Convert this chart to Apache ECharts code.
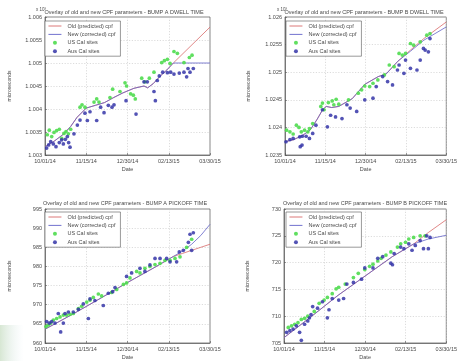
<!DOCTYPE html>
<html><head><meta charset="utf-8">
<script src="https://cdn.jsdelivr.net/npm/echarts@6/dist/echarts.min.js"></script>
<style>html,body{margin:0;padding:0;background:#fff}#c{width:460px;height:361px}</style>
</head><body><div id="c"></div>
<script>
// x values are days since 10/01/14
const dateLabels = ['10/01/14','11/15/14','12/30/14','02/13/15','03/30/15'];
const seriesNames = ['Old (predicted) cpf','New (corrected) cpf','US Cal sites','Aus Cal sites'];
const panelTitles = [
  'Overlay of old and new CPF parameters - BUMP A DWELL TIME',
  'Overlay of old and new CPF parameters - BUMP B DWELL TIME',
  'Overlay of old and new CPF parameters - BUMP A PICKOFF TIME',
  'Overlay of old and new CPF parameters - BUMP B PICKOFF TIME'
];

// Panel 1: BUMP A DWELL TIME (microseconds)
const aDwellLineX = [0,10,20,28,35,45,55,65,75,85,97,108,112,118,126,133,140,180];
const aDwellNew = [1003.18,1003.30,1003.45,1003.62,1003.82,1004.02,1004.08,1004.14,1004.25,1004.35,1004.45,1004.50,1004.46,1004.55,1004.72,1004.85,1005.00,1005.00];
const aDwellOld = [1003.18,1003.30,1003.45,1003.62,1003.82,1004.02,1004.08,1004.14,1004.25,1004.35,1004.45,1004.50,1004.46,1004.55,1004.72,1004.85,1005.00,1005.78];
const aDwellUsX = [2.5,4.7,7.3,9.8,12.7,15.6,18.2,20.7,22.9,25.5,28,38.2,40.4,43.6,53.5,56.4,58.9,70.9,73.8,81.8,87.3,89,93.4,96.4,98.5,105.5,109,113.8,118.9,127.3,130.2,133.5,136.4,140.7,144.4,151.6,157.5,160.4];
const aDwellUsY = [1003.44,1003.54,1003.40,1003.49,1003.53,1003.56,1003.36,1003.47,1003.51,1003.46,1003.56,1004.04,1004.09,1004.04,1004.15,1004.22,1004.15,1004.25,1004.43,1004.38,1004.57,1004.50,1004.33,1004.30,1004.22,1004.67,1004.59,1004.67,1004.80,1005.01,1005.05,1005.08,1004.99,1005.25,1005.21,1005.01,1005.12,1005.17];
const aDwellAusX = [1.8,4,6.2,9.1,12,15.6,18.2,20,22.2,24.4,25.8,27.3,31.6,35.3,38.2,43.6,46.2,49.1,56.4,60.7,64.4,69.1,73.1,75.3,88.4,99.3,108,111.6,118.9,120.4,122.5,124.7,128.4,133.5,137.1,140.7,146.5,151.6,154.5,156,158.2,161.8];
const aDwellAusY = [1003.15,1003.22,1003.29,1003.24,1003.18,1003.27,1003.33,1003.24,1003.34,1003.40,1003.27,1003.17,1003.46,1003.65,1003.76,1003.91,1003.75,1003.94,1003.75,1004.04,1003.92,1004.08,1004.04,1004.09,1004.18,1003.89,1004.59,1004.59,1004.38,1004.18,1004.62,1004.72,1004.80,1004.79,1004.80,1004.76,1004.78,1004.80,1004.70,1004.88,1004.80,1004.88];

// Panel 2: BUMP B DWELL TIME (microseconds)
const bDwellLineX = [0,10,20,28,36,42,46,52,60,75,89,104,113,126,140,155,180];
const bDwellNew = [1023.74,1023.78,1023.86,1023.95,1024.15,1024.32,1024.38,1024.36,1024.38,1024.52,1024.78,1024.92,1024.97,1025.20,1025.38,1025.58,1025.82];
const bDwellOld = [1023.74,1023.78,1023.86,1023.95,1024.15,1024.32,1024.38,1024.36,1024.38,1024.52,1024.78,1024.92,1024.97,1025.20,1025.40,1025.61,1025.91];
const bDwellUsX = [1.8,5.5,9.1,12.7,15.6,18.2,21.8,25.5,27.3,30.9,40,41.8,43.6,48.4,52.7,54.5,57.1,60,70.9,81.8,85.5,89,94.5,98.2,103.6,110.9,116.4,121.8,127.3,130.9,134.5,140,143.6,150.9,158.2,161.8];
const bDwellUsY = [1023.95,1023.92,1023.88,1024.04,1024.00,1023.92,1023.95,1023.92,1023.98,1024.07,1024.38,1024.44,1024.32,1024.45,1024.48,1024.41,1024.51,1024.42,1024.50,1024.62,1024.68,1024.75,1024.74,1024.80,1024.86,1024.95,1025.13,1025.10,1025.34,1025.31,1025.34,1025.52,1025.49,1025.55,1025.67,1025.70];
const bDwellAusX = [1.1,5.5,9.1,16.4,17,19,19.3,23.6,27.3,30.9,34.5,41.8,47.3,50.9,56.4,63.6,69.1,72.7,80,89,98.2,101.8,109,114.5,120,125.5,127.3,132.7,134.5,140,147.3,150.9,154.5,156.4,160,161.8];
const bDwellAusY = [1023.74,1023.78,1023.80,1023.83,1023.65,1023.68,1023.84,1023.84,1023.80,1023.89,1024.04,1024.32,1024.01,1024.22,1024.19,1024.16,1024.41,1024.35,1024.29,1024.50,1024.53,1024.74,1024.92,1024.83,1024.77,1025.04,1025.13,1024.98,1025.22,1025.07,1025.04,1025.22,1025.43,1025.40,1025.37,1025.61];

// Panel 3: BUMP A PICKOFF TIME (microseconds)
const aPickLineX = [0,30,60,90,120,140,150,160,170,180];
const aPickNew = [963.6,967.5,971.6,975.8,979.8,982.6,984.0,985.8,988.1,991.0];
const aPickOld = [963.6,967.5,971.6,975.8,979.8,982.6,983.4,984.2,985.0,985.8];
const aPickUsX = [1.1,3.6,6.2,9.1,12.7,16.4,20,23.6,27.3,30.9,36.4,40,45.5,49.1,52.7,58.2,61.8,72.7,78.2,85.5,89,92.7,100,103.6,109,114.5,120,125.5,130.9,136.4,141.8,147.3,154.5,160];
const aPickUsY = [964.3,964.7,965.2,966.0,966.4,966.8,967.3,967.3,967.5,967.7,969.0,969.6,970.7,971.2,971.9,972.8,972.3,973.2,974.0,975.3,975.7,977.0,978.7,978.3,979.5,980.0,980.5,980.8,981.6,981.6,982.1,982.5,985.0,987.1];
const aPickAusX = [1.8,4.7,7.3,10.9,14.5,17.1,20,21.8,25.5,30.9,36.4,41.8,47.3,49.1,54.5,63.6,69.1,73.8,76.4,89,94.5,103.6,109,114.5,120,125.5,132.7,136.4,143.6,146.5,150.9,156.4,158.2,161.8,160];
const aPickAusY = [965.6,965.2,965.6,965.2,967.7,962.9,965.2,967.7,968.1,968.1,968.8,970.2,966.4,971.5,971.1,969.8,973.0,973.4,974.5,977.4,978.3,979.5,978.7,980.4,982.1,982.1,982.1,981.2,981.2,983.8,984.2,986.3,988.4,988.8,984.2];

// Panel 4: BUMP B PICKOFF TIME (microseconds)
const bPickLineX = [0,30,60,90,120,144,160,180];
const bPickNew = [706.0,709.9,713.9,717.5,721.1,723.5,724.4,725.1];
const bPickOld = [706.0,709.9,713.9,717.5,721.1,723.5,725.6,728.0];
const bPickUsX = [4.7,8.3,11.9,15.5,19.2,22.8,26.4,33.6,39,44.5,48.1,53.5,57.8,60.7,67.9,77,82.4,89.6,95,98.7,104,107.7,113.1,118.5,125.8,129.4,134.8,138.4,143.8,151,156.5];
const bPickUsY = [707.9,708.2,708.5,708.8,709.4,709.6,710.0,710.9,712.4,713.0,713.5,714.2,715.1,715.4,716.0,717.2,718.0,718.7,719.3,719.7,720.3,720.8,721.4,722.0,722.9,723.5,723.8,724.4,724.7,725.0,725.0];
const bPickAusX = [2.9,6.5,10.1,13.7,17.3,19.2,22.8,26.4,28.2,30,31.8,37.2,42.6,48.1,49.9,53.5,60.7,66.1,69.7,77,86,89.6,98.7,104,109.5,118.5,120.3,122.2,129.4,133,138.4,142,145.6,151,154.7,160.1,158.3,162];
const bPickAusY = [707.0,707.3,707.6,708.2,707.0,705.5,708.5,709.1,709.7,710.3,711.8,711.5,712.7,709.7,711.2,713.3,713.0,713.3,716.0,716.3,716.9,719.0,719.0,720.8,721.1,719.9,719.6,721.7,722.9,722.6,723.5,722.3,723.2,724.1,722.6,722.6,725.0,724.7];

const panels = [
  {lineX:aDwellLineX, oldY:aDwellOld, newY:aDwellNew, usX:aDwellUsX, usY:aDwellUsY, ausX:aDwellAusX, ausY:aDwellAusY, yMin:1003, yMax:1006, yInt:0.5, scale:1000},
  {lineX:bDwellLineX, oldY:bDwellOld, newY:bDwellNew, usX:bDwellUsX, usY:bDwellUsY, ausX:bDwellAusX, ausY:bDwellAusY, yMin:1023.5, yMax:1026, yInt:0.5, scale:1000},
  {lineX:aPickLineX, oldY:aPickOld, newY:aPickNew, usX:aPickUsX, usY:aPickUsY, ausX:aPickAusX, ausY:aPickAusY, yMin:960, yMax:995, yInt:5, scale:1},
  {lineX:bPickLineX, oldY:bPickOld, newY:bPickNew, usX:bPickUsX, usY:bPickUsY, ausX:bPickAusX, ausY:bPickAusY, yMin:705, yMax:730, yInt:5, scale:1}
];

// layout
const grids = [
  {left:45, top:17, width:165, height:138},
  {left:285, top:17, width:165, height:138},
  {left:45, top:209, width:165, height:138},
  {left:284, top:209, width:166, height:139}
];
const titlePos = [[124,12],[364,12],[125,203],[365,203]];
const legendPos = [[45,21],[286,21],[45,212],[286,212]];

const txt = '#4a4a4a';
const RED = '#d86a6a', BLUE_LINE = '#6262c8', GREEN = '#4fdc4f', AUS = '#3535a8';
const zip = (a,b) => a.map((v,i)=>[v,b[i]]);

const legendData = [
  {name:seriesNames[0], itemStyle:{opacity:0}},
  {name:seriesNames[1], itemStyle:{opacity:0}},
  {name:seriesNames[2]},
  {name:seriesNames[3]}
];

const option = {
  animation:false,
  backgroundColor:'#ffffff',
  grid: grids.map(g=>Object.assign({show:true, backgroundColor:'#fff', borderColor:'#555', borderWidth:0.7}, g)),
  xAxis: grids.map((g,i)=>({
    type:'value', gridIndex:i, min:0, max:180, interval:45,
    name:'Date', nameLocation:'middle', nameGap:11,
    nameTextStyle:{fontSize:5.5, color:txt, fontFamily:'Liberation Sans'},
    axisLine:{lineStyle:{color:'#555', width:0.7}},
    axisTick:{inside:true, length:2, lineStyle:{color:'#555', width:0.6}},
    axisLabel:{fontSize:5.5, color:txt, margin:3, fontFamily:'Liberation Sans',
      formatter:v=>dateLabels[Math.round(v/45)]||''},
    splitLine:{show:true, lineStyle:{color:'#c4c4c4', type:[1.2,1.6], width:0.6}}
  })),
  yAxis: panels.map((p,i)=>({
    type:'value', gridIndex:i, min:p.yMin, max:p.yMax, interval:p.yInt,
    name:'microseconds', nameLocation:'middle', nameGap: (i%2===0)?33:34,
    nameTextStyle:{fontSize:5, color:txt, fontFamily:'Liberation Sans'},
    axisLine:{lineStyle:{color:'#555', width:0.7}},
    axisTick:{inside:true, length:2, lineStyle:{color:'#555', width:0.6}},
    axisLabel:{fontSize:5.5, color:txt, margin:3, fontFamily:'Liberation Sans',
      formatter:v=>String(Number((v/p.scale).toFixed(4)))},
    splitLine:{show:true, lineStyle:{color:'#c4c4c4', type:[1.2,1.6], width:0.6}}
  })),
  legend: legendPos.map(pos=>({
    data:legendData, orient:'vertical', left:pos[0], top:pos[1],
    itemWidth:13, itemHeight:4, itemGap:2.4, padding:[2,5,2,3],
    lineStyle:{width:0.9},
    backgroundColor:'#fff', borderColor:'#555', borderWidth:0.6, borderRadius:0,
    textStyle:{fontSize:5.5, color:txt, fontFamily:'Liberation Sans', padding:[0,0,0,1]},
    selectedMode:false
  })),
  series: [],
  graphic: []
};

panels.forEach((p,i)=>{
  option.series.push(
    {name:seriesNames[0], type:'line', xAxisIndex:i, yAxisIndex:i, data:zip(p.lineX,p.oldY),
     symbol:'none', lineStyle:{color:RED, width:0.8}, itemStyle:{color:RED}, z:2},
    {name:seriesNames[1], type:'line', xAxisIndex:i, yAxisIndex:i, data:zip(p.lineX,p.newY),
     symbol:'none', lineStyle:{color:BLUE_LINE, width:0.8}, itemStyle:{color:BLUE_LINE}, z:3},
    {name:seriesNames[2], type:'scatter', xAxisIndex:i, yAxisIndex:i, data:zip(p.usX,p.usY),
     symbol:'circle', symbolSize:3.7, itemStyle:{color:GREEN, opacity:0.9}, z:4},
    {name:seriesNames[3], type:'scatter', xAxisIndex:i, yAxisIndex:i, data:zip(p.ausX,p.ausY),
     symbol:'circle', symbolSize:3.7, itemStyle:{color:AUS, opacity:0.85}, z:5}
  );
});

titlePos.forEach((t,i)=>{
  option.graphic.push({type:'text', x:t[0], y:t[1], z:10,
    style:{text:panelTitles[i], fontSize:5.5, fill:txt, fontFamily:'Liberation Sans', align:'center', verticalAlign:'middle'}});
});
[[36,10],[277,10]].forEach(t=>{
  option.graphic.push({type:'text', x:t[0], y:t[1], z:10,
    style:{text:'x 10³', fontSize:4.5, fill:txt, fontFamily:'Liberation Sans', align:'left', verticalAlign:'middle'}});
});
option.graphic.push({type:'rect', z:-1, shape:{x:0,y:325,width:24,height:36},
  style:{fill:{type:'linear',x:0,y:0,x2:1,y2:0,colorStops:[{offset:0,color:'rgba(205,225,200,0.8)'},{offset:1,color:'rgba(230,240,245,0)'}]}}});

const chart = echarts.init(document.getElementById('c'), null, {renderer:'canvas'});
chart.setOption(option);
</script></body></html>
